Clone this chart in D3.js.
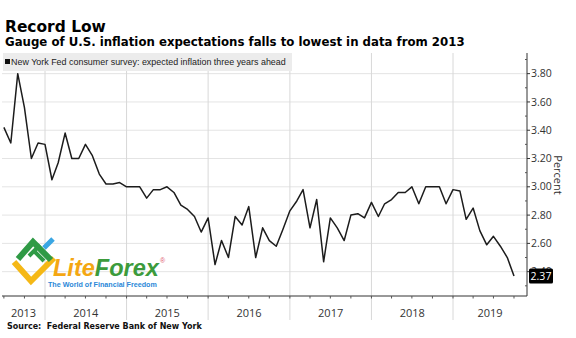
<!DOCTYPE html>
<html>
<head>
<meta charset="utf-8">
<script src="https://cdn.jsdelivr.net/npm/d3@7"></script>
<style>
  body { margin: 0; background: #fff; }
  svg { display: block; }
</style>
</head>
<body>
<script>
// NY Fed SCE, median expected inflation three years ahead, monthly from Jun 2013
var startMonth = "2013-06";
var values = [
    3.42, 3.31, 3.80, 3.56, 3.20, 3.31, 3.30, 3.05, 3.17, 3.38, 3.20, 3.20,
    3.30, 3.22, 3.09, 3.02, 3.02, 3.03, 3.00, 3.00, 3.00, 2.92, 2.98, 2.98,
    3.00, 2.96, 2.87, 2.84, 2.79, 2.68, 2.78, 2.45, 2.62, 2.50, 2.79, 2.73,
    2.86, 2.50, 2.71, 2.62, 2.58, 2.70, 2.83, 2.90, 2.98, 2.71, 2.91, 2.47,
    2.78, 2.71, 2.62, 2.80, 2.81, 2.78, 2.89, 2.79, 2.88, 2.91, 2.96, 2.96,
    3.00, 2.88, 3.00, 3.00, 3.00, 2.88, 2.98, 2.97, 2.77, 2.85, 2.69, 2.59,
    2.65, 2.58, 2.50, 2.37
];
var years = ["2013", "2014", "2015", "2016", "2017", "2018", "2019"];
var yTicks = [2.40, 2.60, 2.80, 3.00, 3.20, 3.40, 3.60, 3.80];
var yMinor = [2.30, 2.50, 2.70, 2.90, 3.10, 3.30, 3.50, 3.70, 3.90];
var lastLabel = "2.37";

var W = 576, H = 338;
var plotLeft = 2, plotRight = 527, plotTop = 53, plotBottom = 296;

var svg = d3.select("body").append("svg")
    .attr("width", W)
    .attr("height", H);

var parseMonth = d3.timeParse("%Y-%m");
var start = parseMonth(startMonth);
// Bloomberg plots monthly points at month end
var data = values.map(function (v, i) {
    return {date: d3.timeMonth.offset(start, i + 1), value: v};
});

// x: calibrated on the year boundaries
var xCal = d3.scaleTime()
    .domain([new Date(2014, 0, 1), new Date(2019, 0, 1)])
    .range([45, 453]);
var x = d3.scaleTime()
    .domain([xCal.invert(plotLeft), xCal.invert(plotRight)])
    .range([plotLeft, plotRight]);

var y = d3.scaleLinear()
    .domain([2.228, 3.946])
    .range([plotBottom, plotTop]);

function fit(sel, w) {
    var cur = sel.node().getComputedTextLength();
    var fs = parseFloat(sel.attr("font-size"));
    sel.attr("font-size", fs * w / cur);
}

// titles
var t1 = svg.append("text")
    .attr("x", 5).attr("y", 31.5)
    .attr("font-family", "DejaVu Sans").attr("font-weight", "bold")
    .attr("font-size", 16).attr("fill", "#000")
    .text("Record Low");
fit(t1, 101);

var t2 = svg.append("text")
    .attr("x", 5).attr("y", 46)
    .attr("font-family", "DejaVu Sans").attr("font-weight", "bold")
    .attr("font-size", 11).attr("fill", "#000")
    .text("Gauge of U.S. inflation expectations falls to lowest in data from 2013");
fit(t2, 460);

// grid
var yearStarts = years.map(function (d) { return new Date(+d, 0, 1); });

svg.append("g").selectAll("line")
    .data(yTicks)
    .enter().append("line")
    .attr("x1", plotLeft).attr("x2", plotRight)
    .attr("y1", function (d) { return y(d); })
    .attr("y2", function (d) { return y(d); })
    .attr("stroke", "#e4e4e4").attr("stroke-width", 1);

svg.append("g").selectAll("line")
    .data(yearStarts.slice(1))
    .enter().append("line")
    .attr("x1", function (d) { return x(d); })
    .attr("x2", function (d) { return x(d); })
    .attr("y1", plotTop).attr("y2", 320)
    .attr("stroke", "#d8d8d8").attr("stroke-width", 1);

// legend
svg.append("rect")
    .attr("x", 3).attr("y", 53)
    .attr("width", 289).attr("height", 18)
    .attr("fill", "#ececec");
svg.append("rect")
    .attr("x", 5).attr("y", 59)
    .attr("width", 5).attr("height", 5)
    .attr("fill", "#111");
var lg = svg.append("text")
    .attr("x", 11).attr("y", 64.5)
    .attr("font-family", "Liberation Sans")
    .attr("font-size", 8).attr("fill", "#222")
    .text("New York Fed consumer survey: expected inflation three years ahead");
fit(lg, 275);

// watermark logo
var logo = svg.append("g");
logo.append("path")
    .attr("d", "M14,262 L31,281 L54,258")
    .attr("fill", "none").attr("stroke", "#f5b816")
    .attr("stroke-width", 6).attr("stroke-linejoin", "miter");
logo.append("path")
    .attr("d", "M18,259 L33,242 L51,260")
    .attr("fill", "none").attr("stroke", "#2f9a45")
    .attr("stroke-width", 6);
logo.append("path")
    .attr("d", "M29,256 L40,245 M34,251 L44,261")
    .attr("fill", "none").attr("stroke", "#2f9a45")
    .attr("stroke-width", 4);
logo.append("path")
    .attr("d", "M44,248 L53,239")
    .attr("fill", "none").attr("stroke", "#3aa6e3")
    .attr("stroke-width", 5);
var lf = logo.append("text")
    .attr("x", 53).attr("y", 276)
    .attr("font-family", "Liberation Sans").attr("font-weight", "bold")
    .attr("font-style", "italic").attr("font-size", 22);
lf.append("tspan").attr("fill", "#f4a712").text("Lite");
lf.append("tspan").attr("fill", "#3c9b3c").text("Forex");
fit(lf, 106);
logo.append("text")
    .attr("x", 160).attr("y", 263)
    .attr("font-family", "Liberation Sans").attr("font-size", 7)
    .attr("fill", "#e05a70").text("®");
var tag = logo.append("text")
    .attr("x", 48).attr("y", 287)
    .attr("font-family", "Liberation Sans").attr("font-weight", "bold")
    .attr("font-size", 8).attr("fill", "#2b88d8")
    .text("The World of Financial Freedom");
fit(tag, 109);

// series
var line = d3.line()
    .x(function (d) { return x(d.date); })
    .y(function (d) { return y(d.value); });

svg.append("path")
    .datum(data)
    .attr("d", line)
    .attr("fill", "none")
    .attr("stroke", "#1c1c1c")
    .attr("stroke-width", 1.5)
    .attr("stroke-linejoin", "round");

// right axis
var yAxis = svg.append("g")
    .attr("transform", "translate(" + plotRight + ",0)");
yAxis.append("line")
    .attr("x1", 0).attr("x2", 0)
    .attr("y1", plotTop).attr("y2", plotBottom)
    .attr("stroke", "#333");
yAxis.selectAll(".maj")
    .data(yTicks)
    .enter().append("line")
    .attr("class", "maj")
    .attr("x1", 0).attr("x2", 3)
    .attr("y1", function (d) { return y(d); })
    .attr("y2", function (d) { return y(d); })
    .attr("stroke", "#333");
yAxis.selectAll(".min")
    .data(yMinor)
    .enter().append("line")
    .attr("class", "min")
    .attr("x1", -2).attr("x2", 0)
    .attr("y1", function (d) { return y(d); })
    .attr("y2", function (d) { return y(d); })
    .attr("stroke", "#555");
yAxis.selectAll("text")
    .data(yTicks)
    .enter().append("text")
    .attr("x", 4)
    .attr("y", function (d) { return y(d); })
    .attr("dy", "0.35em")
    .attr("font-family", "Open Sans")
    .attr("font-size", 10.5)
    .attr("fill", "#333")
    .text(d3.format(".2f"));

svg.append("text")
    .attr("transform", "translate(554,175) rotate(90)")
    .attr("text-anchor", "middle")
    .attr("font-family", "Open Sans")
    .attr("font-size", 11)
    .attr("fill", "#333")
    .text("Percent");

// last value tag
var last = data[data.length - 1];
svg.append("rect")
    .attr("x", 529).attr("y", y(last.value) - 7.5)
    .attr("width", 24).attr("height", 15)
    .attr("rx", 1.5)
    .attr("fill", "#000");
svg.append("text")
    .attr("x", 541).attr("y", y(last.value))
    .attr("dy", "0.35em")
    .attr("text-anchor", "middle")
    .attr("font-family", "Open Sans")
    .attr("font-size", 10.5)
    .attr("fill", "#fff")
    .text(lastLabel);

// bottom axis
var xAxis = svg.append("g");
xAxis.append("line")
    .attr("x1", plotLeft).attr("x2", plotRight)
    .attr("y1", plotBottom).attr("y2", plotBottom)
    .attr("stroke", "#333");
var quarters = d3.timeMonth.every(3).range(x.domain()[0], x.domain()[1]);
xAxis.selectAll(".q")
    .data(quarters)
    .enter().append("line")
    .attr("class", "q")
    .attr("x1", function (d) { return x(d); })
    .attr("x2", function (d) { return x(d); })
    .attr("y1", plotBottom).attr("y2", plotBottom + 2.5)
    .attr("stroke", "#555");

xAxis.selectAll("text")
    .data(years)
    .enter().append("text")
    .attr("x", function (d) {
        var a = Math.max(plotLeft, x(new Date(+d, 0, 1)));
        var b = Math.min(plotRight, x(new Date(+d + 1, 0, 1)));
        return (a + b) / 2;
    })
    .attr("y", 317)
    .attr("text-anchor", "middle")
    .attr("font-family", "Open Sans")
    .attr("font-size", 11)
    .attr("fill", "#333")
    .text(function (d) { return d; });

// source
var src = svg.append("text")
    .attr("x", 7).attr("y", 328.5)
    .attr("font-family", "DejaVu Sans").attr("font-weight", "bold")
    .attr("font-size", 8).attr("fill", "#111")
    .attr("xml:space", "preserve")
    .text("Source:  Federal Reserve Bank of New York");
fit(src, 195);
</script>
</body>
</html>
